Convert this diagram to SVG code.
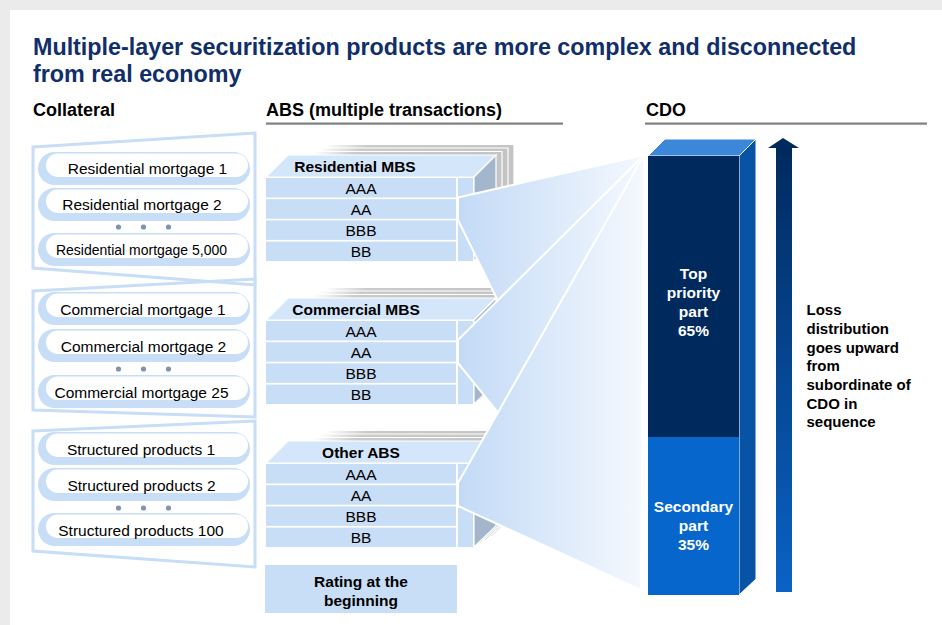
<svg xmlns="http://www.w3.org/2000/svg" width="942" height="625" viewBox="0 0 942 625">
  <defs>
    <linearGradient id="funnelFill" gradientUnits="userSpaceOnUse" x1="458" y1="0" x2="641" y2="0">
      <stop offset="0" stop-color="#c3daf6"/>
      <stop offset="1" stop-color="#f3f8fe"/>
    </linearGradient>
    <linearGradient id="backPage" x1="0" y1="0" x2="1" y2="0">
      <stop offset="0.18" stop-color="#ffffff"/>
      <stop offset="0.36" stop-color="#cacaca"/>
      <stop offset="1" stop-color="#c4c4c4"/>
    </linearGradient>
    <linearGradient id="arrowFill" x1="0" y1="0" x2="0" y2="1">
      <stop offset="0" stop-color="#00295c"/>
      <stop offset="1" stop-color="#0a62c6"/>
    </linearGradient>
    <style>
      .txt { font-family: "Liberation Sans", Arial, sans-serif; fill: #000; }
      .title { font-family: "Liberation Sans", Arial, sans-serif; font-weight: bold; font-size: 23.3px; fill: #102e6a; }
      .head { font-family: "Liberation Sans", Arial, sans-serif; font-weight: bold; font-size: 18px; fill: #000; }
      .pillText { font-size: 15.5px; text-anchor: middle; }
      .rowText { font-size: 15.5px; text-anchor: middle; }
      .bold { font-weight: bold; }
      .white { fill: #fff; }
      .mid { text-anchor: middle; }
      .frame { fill: none; stroke: #c8ddf6; stroke-width: 3; stroke-linejoin: miter; }
      .pillOuter { fill: #c8ddf6; }
      .pillInner { fill: #fff; }
      .dot { fill: #8093b3; }
      .row { fill: #c8ddf6; }
      .backing { fill: #fff; }
      .topFace { fill: #d4e6fa; stroke: #fff; stroke-width: 1.2; }
      .sideFace { fill: #a4b6cb; stroke: #fff; stroke-width: 1.2; }
      .backPage { fill: url(#backPage); stroke: #fff; stroke-width: 1.2; }
      .funnel { fill: url(#funnelFill); stroke: #fff; stroke-width: 2; stroke-linejoin: round; }
      .rule { fill: #808080; }
    </style>
    <!-- one ABS stack: pages behind, top and side faces, white front backing -->
    <g id="absShell">
      <polygon class="backPage" points="306,144.5 514,144.5 514,229.5 492,250.5 284,250.5 284,166.5"/>
      <polygon class="backPage" points="300,148 508,148 508,233 486,254 278,254 278,170"/>
      <polygon class="backPage" points="294,151.5 502,151.5 502,236.5 480,257.5 272,257.5 272,173.5"/>
      <rect class="backing" x="265" y="176" width="210" height="87"/>
      <polygon class="topFace" points="266,177 288,155 496,155 474,177"/>
      <polygon class="sideFace" points="474,177 496,155 496,240 474,261"/>
      <rect class="row" x="266" y="178" width="190" height="19.5"/>
      <rect class="row" x="266" y="199.2" width="190" height="19.5"/>
      <rect class="row" x="266" y="220.4" width="190" height="19.5"/>
      <rect class="row" x="266" y="241.6" width="190" height="19.5"/>
      <rect class="row" x="458" y="178" width="15" height="83.1"/>
    </g>
  </defs>

  <!-- page background and white card -->
  <rect x="0" y="0" width="942" height="625" fill="#ebebeb"/>
  <rect x="10" y="10" width="932" height="615" fill="#ffffff"/>

  <!-- title -->
  <text class="title" x="33" y="54.5">Multiple-layer securitization products are more complex and disconnected</text>
  <text class="title" x="33" y="81.5">from real economy</text>

  <!-- column headers -->
  <text class="head" x="33" y="116">Collateral</text>
  <text class="head" x="266" y="116">ABS (multiple transactions)</text>
  <rect class="rule" x="266" y="122.5" width="297" height="2.2"/>
  <text class="head" x="646" y="116">CDO</text>
  <rect class="rule" x="645" y="122.5" width="282" height="2.2"/>

  <!-- collateral pools -->
  <g id="pool-residential">
    <polygon class="frame" points="33,147 255,133 255,285 33,268"/>
    <rect class="pillOuter" x="38" y="152" width="212" height="33" rx="16.5"/>
    <rect class="pillInner" x="46" y="153.5" width="202" height="23.5" rx="11.75"/>
    <text class="txt pillText" x="147.5" y="174">Residential mortgage 1</text>
    <rect class="pillOuter" x="38" y="188" width="212" height="33" rx="16.5"/>
    <rect class="pillInner" x="46" y="189.5" width="202" height="23.5" rx="11.75"/>
    <text class="txt pillText" x="142" y="210">Residential mortgage 2</text>
    <circle class="dot" cx="118.5" cy="227" r="2.6"/>
    <circle class="dot" cx="143.5" cy="227" r="2.6"/>
    <circle class="dot" cx="168.5" cy="227" r="2.6"/>
    <rect class="pillOuter" x="38" y="233" width="212" height="33" rx="16.5"/>
    <rect class="pillInner" x="46" y="234.5" width="202" height="23.5" rx="11.75"/>
    <text class="txt pillText" x="141.5" y="255" textLength="171" lengthAdjust="spacingAndGlyphs">Residential mortgage 5,000</text>
  </g>

  <g id="pool-commercial">
    <polygon class="frame" points="33,291 255,279 255,417 33,410"/>
    <rect class="pillOuter" x="38" y="292" width="212" height="33" rx="16.5"/>
    <rect class="pillInner" x="46" y="293.5" width="202" height="23.5" rx="11.75"/>
    <text class="txt pillText" x="143" y="314.5">Commercial mortgage 1</text>
    <rect class="pillOuter" x="38" y="329" width="212" height="33" rx="16.5"/>
    <rect class="pillInner" x="46" y="330.5" width="202" height="23.5" rx="11.75"/>
    <text class="txt pillText" x="143.5" y="351.5">Commercial mortgage 2</text>
    <circle class="dot" cx="118.5" cy="369" r="2.6"/>
    <circle class="dot" cx="143.5" cy="369" r="2.6"/>
    <circle class="dot" cx="168.5" cy="369" r="2.6"/>
    <rect class="pillOuter" x="38" y="375" width="212" height="33" rx="16.5"/>
    <rect class="pillInner" x="46" y="376.5" width="202" height="23.5" rx="11.75"/>
    <text class="txt pillText" x="141.5" y="397.5">Commercial mortgage 25</text>
  </g>

  <g id="pool-structured">
    <polygon class="frame" points="33,431 255,421 255,567 33,551"/>
    <rect class="pillOuter" x="38" y="432" width="212" height="33" rx="16.5"/>
    <rect class="pillInner" x="46" y="433.5" width="202" height="23.5" rx="11.75"/>
    <text class="txt pillText" x="141" y="454.5">Structured products 1</text>
    <rect class="pillOuter" x="38" y="468" width="212" height="33" rx="16.5"/>
    <rect class="pillInner" x="46" y="469.5" width="202" height="23.5" rx="11.75"/>
    <text class="txt pillText" x="141.5" y="490.5">Structured products 2</text>
    <circle class="dot" cx="118.5" cy="508" r="2.6"/>
    <circle class="dot" cx="143.5" cy="508" r="2.6"/>
    <circle class="dot" cx="168.5" cy="508" r="2.6"/>
    <rect class="pillOuter" x="38" y="513" width="212" height="33" rx="16.5"/>
    <rect class="pillInner" x="46" y="514.5" width="202" height="23.5" rx="11.75"/>
    <text class="txt pillText" x="141" y="535.5">Structured products 100</text>
  </g>

  <!-- ABS tranche stacks -->
  <g id="abs-residential">
    <use href="#absShell"/>
    <text class="txt bold mid" x="355" y="171.5" font-size="15.5">Residential MBS</text>
    <text class="txt rowText" x="361" y="193.5">AAA</text>
    <text class="txt rowText" x="361" y="214.7">AA</text>
    <text class="txt rowText" x="361" y="235.9">BBB</text>
    <text class="txt rowText" x="361" y="257.1">BB</text>
  </g>

  <g id="abs-commercial" transform="translate(0,143)">
    <use href="#absShell"/>
    <text class="txt bold mid" x="356" y="171.5" font-size="15.5">Commercial MBS</text>
    <text class="txt rowText" x="361" y="193.5">AAA</text>
    <text class="txt rowText" x="361" y="214.7">AA</text>
    <text class="txt rowText" x="361" y="235.9">BBB</text>
    <text class="txt rowText" x="361" y="257.1">BB</text>
  </g>

  <g id="abs-other" transform="translate(0,286)">
    <use href="#absShell"/>
    <text class="txt bold mid" x="361" y="171.5" font-size="15.5">Other ABS</text>
    <text class="txt rowText" x="361" y="193.5">AAA</text>
    <text class="txt rowText" x="361" y="214.7">AA</text>
    <text class="txt rowText" x="361" y="235.9">BBB</text>
    <text class="txt rowText" x="361" y="257.1">BB</text>
  </g>

  <g id="rating-note">
    <rect class="row" x="265" y="565" width="192" height="48"/>
    <text class="txt bold mid" x="361" y="587" font-size="15.5">Rating at the</text>
    <text class="txt bold mid" x="361" y="606" font-size="15.5">beginning</text>
  </g>

  <!-- AA tranches fanning into the CDO -->
  <g id="connectors">
    <polygon class="funnel" points="458,197.5 644,155 641,590 458,220"/>
    <polygon class="funnel" points="458,340 644,155 641,590 458,363"/>
    <polygon class="funnel" points="458,483 644,155 641,590 458,506"/>
  </g>

  <!-- CDO column -->
  <g id="cdo">
    <polygon points="648,156 665,139 756,139 739,156" fill="#3b87d9" stroke="#fff" stroke-width="1"/>
    <polygon points="739,156 756,139 756,579 739,595" fill="#0753a6" stroke="#fff" stroke-width="1"/>
    <rect x="648" y="156" width="91" height="281" fill="#002a5e"/>
    <rect x="648" y="437" width="91" height="158" fill="#0666cc"/>
    <g class="txt bold mid" font-size="15.5">
      <text class="white" x="693.5" y="278.5">Top</text>
      <text class="white" x="693.5" y="297.5">priority</text>
      <text class="white" x="693.5" y="316.5">part</text>
      <text class="white" x="693.5" y="335.5">65%</text>
      <text class="white" x="693.5" y="511.5">Secondary</text>
      <text class="white" x="693.5" y="530.5">part</text>
      <text class="white" x="693.5" y="549.5">35%</text>
    </g>
  </g>

  <!-- loss direction arrow -->
  <g id="loss-arrow">
    <polygon points="783,138 799,148 792,148 792,592 776,592 776,148 768,148" fill="url(#arrowFill)"/>
    <g class="txt bold" font-size="15">
      <text x="806.5" y="315">Loss</text>
      <text x="806.5" y="334">distribution</text>
      <text x="806.5" y="352.5">goes upward</text>
      <text x="806.5" y="371">from</text>
      <text x="806.5" y="390">subordinate of</text>
      <text x="806.5" y="408.5">CDO in</text>
      <text x="806.5" y="427">sequence</text>
    </g>
  </g>
</svg>
